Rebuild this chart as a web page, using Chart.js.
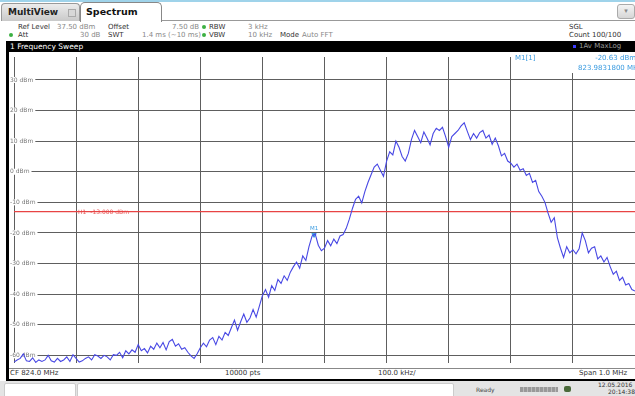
<!DOCTYPE html>
<html>
<head>
<meta charset="utf-8">
<script src="https://cdn.jsdelivr.net/npm/chart.js@4"></script>
<style>
  html, body { margin: 0; padding: 0; width: 635px; height: 396px; overflow: hidden; background: #fff; font-family: "DejaVu Sans", sans-serif; }
  .abs { position: absolute; white-space: nowrap; line-height: 1; }
  .lbl { color: #333; font-size: 7px; }
  .val { color: #888; font-size: 7px; }
  .dot { position: absolute; width: 4px; height: 4px; border-radius: 2px; background: #3cb043; }
  #plot { position: absolute; left: 9px; top: 52px; }
</style>
</head>
<body>
<!-- tab bar -->
<div class="abs" style="left:0;top:0;width:635px;height:2px;background:#9fd3ea"></div>
<div class="abs" style="left:160px;top:20px;width:475px;height:1px;background:#999"></div>
<div class="abs" style="left:1px;top:3px;width:77px;height:17px;background:linear-gradient(#ececec,#c9c9c9);border:1px solid #999;border-bottom:none;border-radius:4px 4px 0 0"></div>
<div class="abs" style="left:8px;top:8px;font-size:9px;font-weight:bold;color:#222">MultiView</div>
<div class="abs" style="left:68px;top:9px;width:6px;height:6px;background:#d8d8d8;border:1px solid #aaa"></div>
<div class="abs" style="left:80px;top:2px;width:80px;height:19px;background:#fff;border:1px solid #888;border-bottom:none;border-radius:5px 5px 0 0"></div>
<div class="abs" style="left:86px;top:7px;font-size:9.5px;font-weight:bold;color:#111">Spectrum</div>
<div class="abs" style="left:617px;top:4px;width:16px;height:13px;background:linear-gradient(#f4f4f4,#d6d6d6);border:1px solid #aaa;border-radius:3px;font-size:7px;color:#888;text-align:center;line-height:13px">▾</div>

<!-- info rows -->
<div class="abs lbl" style="left:18px;top:24px">Ref Level</div>
<div class="abs val" style="left:57px;top:24px">37.50 dBm</div>
<div class="abs lbl" style="left:108px;top:24px">Offset</div>
<div class="abs val" style="left:172px;top:24px">7.50 dB</div>
<div class="dot" style="left:202px;top:25px"></div>
<div class="abs lbl" style="left:209px;top:24px">RBW</div>
<div class="abs val" style="left:248px;top:24px">3 kHz</div>
<div class="abs lbl" style="left:569px;top:24px">SGL</div>

<div class="dot" style="left:9px;top:33px"></div>
<div class="abs lbl" style="left:18px;top:32px">Att</div>
<div class="abs val" style="left:80px;top:32px">30 dB</div>
<div class="abs lbl" style="left:108px;top:32px">SWT</div>
<div class="abs val" style="left:142px;top:32px">1.4 ms (~10 ms)</div>
<div class="dot" style="left:202px;top:33px"></div>
<div class="abs lbl" style="left:209px;top:32px">VBW</div>
<div class="abs val" style="left:248px;top:32px">10 kHz</div>
<div class="abs lbl" style="left:280px;top:32px">Mode</div>
<div class="abs val" style="left:302px;top:32px">Auto FFT</div>
<div class="abs lbl" style="left:569px;top:32px">Count 100/100</div>

<!-- window title bar and frame -->
<div class="abs" style="left:6px;top:41px;width:629px;height:11px;background:#000"></div>
<div class="abs" style="left:10px;top:43px;font-size:7.5px;color:#fff">1 Frequency Sweep</div>
<div class="abs" style="left:573px;top:45px;width:3px;height:3px;background:#3c3cff"></div>
<div class="abs" style="left:579px;top:43px;font-size:7px;color:#9a9a9a">1Av MaxLog</div>
<div class="abs" style="left:6px;top:41px;width:3px;height:340px;background:#000"></div>

<canvas id="plot" width="631" height="316"></canvas>

<!-- bottom axis row -->
<div class="abs" style="left:9px;top:368px;width:626px;height:1px;background:#888"></div>
<div class="abs lbl" style="left:10px;top:370px">CF 824.0 MHz</div>
<div class="abs lbl" style="left:225px;top:370px">10000 pts</div>
<div class="abs lbl" style="left:378px;top:370px">100.0 kHz/</div>
<div class="abs lbl" style="left:579px;top:370px">Span 1.0 MHz</div>
<div class="abs" style="left:6px;top:379px;width:629px;height:2px;background:#000"></div>

<!-- status bar -->
<div class="abs" style="left:0;top:381px;width:635px;height:15px;background:#e4e4e4"></div>
<div class="abs" style="left:4px;top:383px;width:70px;height:13px;background:#fff;border:1px solid #ccc;border-radius:2px"></div>
<div class="abs" style="left:77px;top:383px;width:375px;height:13px;background:#fff;border:1px solid #ccc;border-radius:2px"></div>
<div class="abs" style="left:476px;top:387px;font-size:6px;color:#444">Ready</div>
<div class="abs" style="left:520px;top:387px;width:38px;height:5px;background:repeating-linear-gradient(90deg,#999 0 3px,#bbb 3px 4px)"></div>
<div class="abs" style="left:564px;top:386px;width:7px;height:6px;background:#4a6a3a;border-radius:2px"></div>
<div class="abs" style="left:598px;top:382px;font-size:6px;color:#333">12.05.2016</div>
<div class="abs" style="left:608px;top:389px;font-size:6px;color:#333">20:14:38</div>

<script>
// sweep: 824.0 MHz centre, 1 MHz span, offsets in kHz
const centerMHz = 824.0;
const startKHz = -500;
const stopKHz = 500;
const stepKHz = 5;

// trace 1 levels (dBm), one per 5 kHz
const levels = [
  -62.2, -61.5, -61, -59.5, -61.8, -62, -60.8, -62.3, -61.5, -62,
  -61.5, -60, -61.8, -62.2, -61, -62, -61.5, -60.5, -62, -59.8,
  -61, -62.2, -61.8, -61, -60.5, -61.5, -59.8, -60.2, -61, -60,
  -60.5, -61.5, -59.8, -60, -59, -60.8, -58.5, -59.5, -58.2, -59,
  -56.5, -58.5, -57.8, -59.2, -57, -58, -56, -57.5, -55.8, -58.2,
  -55.5, -54.8, -57, -56.2, -58, -57.5, -59, -60.2, -61, -59.5,
  -57.5, -56, -57.2, -55, -54.2, -56.5, -53.8, -55, -52.5, -53.5,
  -51, -48.5, -51.8, -49, -46.5, -49.2, -47.8, -45, -47.5, -44,
  -40.5, -38.5, -41, -37.2, -38.8, -35.2, -36.5, -34, -35.5, -32.8,
  -31, -29.5, -31.5, -27.5, -29, -24.5, -21, -20.3, -24, -25.8,
  -25, -22.5, -24.2, -22, -23.5, -21, -20.5, -18.5, -15.5, -12,
  -9, -8, -10.2, -6.5, -3.5, -1, 1.5, 2.5, 0.5, -1.5,
  3.5, 6.5, 5.5, 10, 8, 5, 3.5, 6, 10.5, 13.5,
  11.5, 9.5, 13, 11, 8.8, 12.5, 14.2, 13.5, 14.5, 11.5,
  8, 11.5, 12.5, 13.5, 15, 16, 13.2, 10.5, 12.5, 11,
  12.8, 13.5, 11, 12, 9, 11, 8.5, 5.2, 6, 3.5,
  2.8, 1.5, 2.5, 0.5, 1, -1.2, -0.5, -3.5, -2.8, -6.5,
  -8, -10, -13.5, -16.5, -15, -21.5, -25, -28, -24.5, -26.5,
  -25.5, -26.8, -25.2, -20, -22.5, -26.5, -25, -24.5, -28.5, -27.5,
  -29.5, -28, -31, -33.5, -32.5, -35.5, -34.5, -37, -36.5, -38.5, -39
];

const xTicks = [-500, -400, -300, -200, -100, 0, 100, 200, 300, 400, 500];
const yTicks = [30, 20, 10, 0, -10, -20, -30, -40, -50, -60];
const refLevel = 37.5;
const bottomLevel = -62.5;

const h1Level = -13;
const markerKHz = -16.82;
const markerLevel = -20.63;

const trace = levels.map((v, i) => ({ x: startKHz + i * stepKHz, y: v }));

const overlay = {
  id: 'overlay',
  beforeDatasetsDraw(chart) {
    const { ctx, scales: { x, y } } = chart;
    ctx.save();
    ctx.font = '6px "DejaVu Sans"';
    ctx.textBaseline = 'middle';
    yTicks.forEach(v => {
      const py = y.getPixelForValue(v);
      const t = v + ' dBm';
      const w = ctx.measureText(t).width;
      ctx.fillStyle = '#fff';
      ctx.fillRect(0, py - 3, w + 3, 6);
      ctx.fillStyle = '#777';
      ctx.fillText(t, 1, py);
    });
    // display line label
    const hx = x.getPixelForValue(-400) + 1;
    const hy = y.getPixelForValue(h1Level);
    const ht = 'H1  ' + h1Level.toFixed(3) + ' dBm';
    const hw = ctx.measureText(ht).width;
    ctx.fillStyle = '#fff';
    ctx.fillRect(hx, hy - 3, hw + 2, 6);
    ctx.fillStyle = '#e85a5a';
    ctx.fillText(ht, hx + 1, hy + 0.5);
    ctx.restore();
  },
  afterDatasetsDraw(chart) {
    const { ctx, scales: { x, y } } = chart;
    ctx.save();
    // marker label
    ctx.font = '5.5px "DejaVu Sans"';
    ctx.textAlign = 'center';
    ctx.textBaseline = 'bottom';
    ctx.fillStyle = '#3a9be0';
    ctx.fillText('M1', x.getPixelForValue(markerKHz), y.getPixelForValue(markerLevel) - 4);
    // marker table
    const bx = x.getPixelForValue(300) + 4;
    ctx.fillStyle = '#fff';
    ctx.fillRect(bx, 0, chart.width - bx, 21);
    ctx.font = '7px "DejaVu Sans"';
    ctx.fillStyle = '#3a9be0';
    ctx.textBaseline = 'middle';
    ctx.textAlign = 'left';
    ctx.fillText('M1[1]', 506, 6);
    ctx.textAlign = 'right';
    ctx.fillText(markerLevel.toFixed(2) + ' dBm', 627, 6);
    ctx.fillText((centerMHz + markerKHz / 1000).toFixed(7) + ' MHz', 633, 16);
    ctx.restore();
  }
};

new Chart(document.getElementById('plot'), {
  type: 'line',
  data: {
    datasets: [
      {
        label: 'Trace 1',
        data: trace,
        borderColor: '#4848e4',
        borderWidth: 1.1,
        pointRadius: 0,
        tension: 0
      },
      {
        label: 'H1',
        data: [{ x: startKHz, y: h1Level }, { x: stopKHz, y: h1Level }],
        borderColor: '#e84444',
        borderWidth: 1.3,
        pointRadius: 0
      },
      {
        label: 'M1',
        data: [{ x: markerKHz, y: markerLevel }],
        showLine: false,
        pointStyle: 'triangle',
        rotation: 180,
        pointRadius: 2.5,
        backgroundColor: '#3a9be0',
        borderColor: '#3a9be0'
      }
    ]
  },
  options: {
    responsive: false,
    animation: false,
    devicePixelRatio: 1,
    layout: { padding: 0 },
    plugins: { legend: { display: false }, tooltip: { enabled: false } },
    scales: {
      x: {
        type: 'linear',
        min: startKHz,
        max: stopKHz,
        afterBuildTicks: s => { s.ticks = xTicks.map(v => ({ value: v })); },
        ticks: { display: false },
        grid: { color: '#5e5e5e', lineWidth: 1, drawTicks: false },
        border: { display: false }
      },
      y: {
        type: 'linear',
        min: bottomLevel,
        max: refLevel,
        afterBuildTicks: s => { s.ticks = yTicks.map(v => ({ value: v })); },
        ticks: { display: false },
        grid: { color: '#5e5e5e', lineWidth: 1, drawTicks: false },
        border: { display: false }
      }
    }
  },
  plugins: [overlay]
});
</script>
</body>
</html>
